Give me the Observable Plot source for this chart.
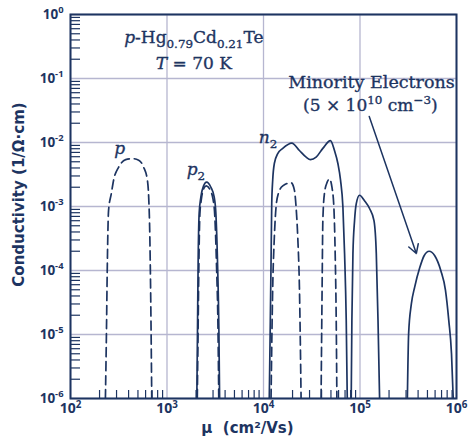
<!DOCTYPE html>
<html><head><meta charset="utf-8">
<script src="https://cdn.jsdelivr.net/npm/d3@7"></script>
<script src="https://cdn.jsdelivr.net/npm/@observablehq/plot@0.6"></script>
<style>
body{margin:0;background:#fff}
#chart{width:468px;height:438px}
</style></head><body><div id="chart"></div>
<script>
// ---- data ----
const pDashMu    = [230, 236, 240, 248, 265, 280, 315, 373, 437, 509, 573, 626, 646, 662, 678, 695];
const pDashSigma = [1e-6, 1.2e-5, 9e-5, 8.7e-4, 1.6e-3, 2.6e-3, 4.1e-3, 5.4e-3, 5.6e-3, 5.3e-3, 4.1e-3, 2.6e-3, 1.4e-3, 4.2e-4, 3.8e-5, 1e-6];

const p2SolidMu    = [2037, 2070, 2102, 2154, 2243, 2393, 2572, 2850, 3084, 3209, 3340, 3450, 3508];
const p2SolidSigma = [1e-6, 1.15e-5, 1.3e-4, 7.8e-4, 1.4e-3, 2.1e-3, 2.4e-3, 2.0e-3, 1.4e-3, 7.8e-4, 1.3e-4, 1.15e-5, 1e-6];

const p2DashMu    = [2060, 2100, 2140, 2190, 2270, 2400, 2560, 2800, 3000, 3130, 3260, 3380, 3440];
const p2DashSigma = [1e-6, 1.2e-5, 1.3e-4, 7.5e-4, 1.3e-3, 1.9e-3, 2.1e-3, 1.8e-3, 1.3e-3, 7e-4, 1.2e-4, 1.1e-5, 1e-6];

const n2SolidMu    = [11480, 11770, 11970, 12170, 12460, 12950, 14050, 15840, 19650, 23560, 27660, 30640, 35100, 41200, 49400, 54400, 59000, 62800, 66500, 69200, 72000, 73800];
const n2SolidSigma = [1e-6, 1.65e-5, 1.3e-4, 1.1e-3, 2.6e-3, 4.7e-3, 6.7e-3, 8.1e-3, 9.8e-3, 7.5e-3, 5.9e-3, 5.4e-3, 5.9e-3, 8.1e-3, 1.07e-2, 7.5e-3, 4.7e-3, 2.6e-3, 9.8e-4, 1.85e-4, 1.65e-5, 1e-6];

const n2DashAMu    = [11970, 12460, 12950, 13490, 14260, 15840, 19320, 20900, 21760, 22650, 23560, 24520];
const n2DashASigma = [1e-6, 5.5e-5, 3.3e-4, 9.8e-4, 1.6e-3, 2.1e-3, 2.35e-3, 1.8e-3, 9.8e-4, 3.3e-4, 5.5e-5, 1e-6];

const n2DashBMu    = [39500, 40500, 41200, 42800, 45700, 48300, 51200, 53600, 55300, 56700, 57600];
const n2DashBSigma = [1e-6, 5.5e-5, 6.0e-4, 1.6e-3, 2.4e-3, 2.7e-3, 2.0e-3, 9.8e-4, 1.85e-4, 1.65e-5, 1e-6];

const n1SolidMu    = [81100, 82400, 84500, 87800, 91400, 98900, 111400, 125600, 139600, 147500, 153700, 159600];
const n1SolidSigma = [1e-6, 1.65e-5, 1.85e-4, 6e-4, 1.1e-3, 1.5e-3, 1.23e-3, 9.3e-4, 6e-4, 1.85e-4, 1.65e-5, 1e-6];

const minorityMu    = [309700, 319300, 340500, 368600, 415600, 461700, 520000, 595400, 687300, 769000, 832000, 887700, 924600];
const minoritySigma = [1e-6, 1.05e-5, 3.0e-5, 5.5e-5, 1.1e-4, 1.7e-4, 2.0e-4, 1.7e-4, 1.0e-4, 4.9e-5, 1.65e-5, 5e-6, 1e-6];

// tick values
const xDecades = [1e2, 1e3, 1e4, 1e5, 1e6];
const yDecades = [1e-6, 1e-5, 1e-4, 1e-3, 1e-2, 1e-1, 1];
const minorMultipliers = [2, 3, 4, 5, 6, 7, 8, 9];

// annotations
const labelTexts = ["*p*-Hg_{0.79}Cd_{0.21}Te", "*T* = 70 K", "(5 × 10^{10} cm^{−3})", "*p*", "*p*_{2}", "*n*_{2}"];
const labelMu    = [1897, 1897, 128000, 323, 1991, 11140];
const labelSigma = [0.437, 0.171, 0.038, 8.05e-3, 3.8e-3, 0.012];
const minorityTitle = "Minority Electrons";
const minorityTitleMu = 131500;
const minorityTitleSigma = 0.0866;
const arrowFrom = {mu: 124700, sigma: 0.0255};
const arrowTo   = {mu: 383500, sigma: 1.84e-4};
const xLabel = "μ  (cm²/Vs)";
const yLabel = "Conductivity (1/Ω·cm)";

// ---- build tables ----
function rows(name, mu, sigma) { return mu.map((m, i) => ({curve: name, mu: m, sigma: sigma[i]})); }
const dashed = [
  ...rows("p", pDashMu, pDashSigma),
  ...rows("p2d", p2DashMu, p2DashSigma),
  ...rows("n2a", n2DashAMu, n2DashASigma),
  ...rows("n2b", n2DashBMu, n2DashBSigma)
];
const solid = [
  ...rows("p2", p2SolidMu, p2SolidSigma),
  ...rows("n2", n2SolidMu, n2SolidSigma),
  ...rows("n1", n1SolidMu, n1SolidSigma),
  ...rows("min", minorityMu, minoritySigma)
];
const labels = labelTexts.map((t, i) => ({t, mu: labelMu[i], sigma: labelSigma[i]}));
const minorX = xDecades.slice(0, -1).flatMap(d => minorMultipliers.map(m => d * m));
const minorY = yDecades.slice(0, -1).flatMap(d => minorMultipliers.map(m => d * m));

const navy = "#1d3461";
const gridColor = "#b6b6d0";
const expFmt = d => "10^{" + Math.round(Math.log10(d)) + "}";
const labelFont = "'DejaVu Sans', sans-serif";
const serif = "'DejaVu Serif', serif";

const chart = Plot.plot({
  width: 468, height: 438,
  marginLeft: 70, marginRight: 12, marginTop: 14, marginBottom: 40,
  style: {background: "#fff", color: navy, fontFamily: "'Open Sans', sans-serif"},
  x: {type: "log", domain: [1e2, 1e6]},
  y: {type: "log", domain: [1e-6, 1]},
  marks: [
    Plot.gridX(xDecades, {stroke: gridColor, strokeOpacity: 1, strokeWidth: 1.3}),
    Plot.gridY(yDecades, {stroke: gridColor, strokeOpacity: 1, strokeWidth: 1.3}),
    Plot.axisX(minorX, {tickSize: -8, tickFormat: () => "", stroke: navy, strokeWidth: 1.2, label: null}),
    Plot.axisY(minorY, {tickSize: -10, tickFormat: () => "", stroke: navy, strokeWidth: 1.2, label: null}),
    Plot.axisX(xDecades, {tickSize: 0, tickPadding: 5, tickFormat: expFmt, fontSize: 14, fontWeight: "bold", fill: navy, label: null}),
    Plot.axisY(yDecades, {tickSize: 0, tickPadding: 7, tickFormat: expFmt, fontSize: 13.5, fontWeight: "bold", fill: navy, label: null}),
    Plot.line(dashed, {x: "mu", y: "sigma", z: "curve", stroke: navy, strokeWidth: 1.7, strokeDasharray: "9,5", curve: "monotone-x", clip: true}),
    Plot.line(solid, {x: "mu", y: "sigma", z: "curve", stroke: navy, strokeWidth: 1.7, curve: "monotone-x", clip: true}),
    Plot.frame({stroke: navy, strokeWidth: 2}),
    Plot.text(labels, {x: "mu", y: "sigma", text: "t", fontFamily: serif, fontSize: 17, fill: navy, stroke: navy, strokeWidth: 0.35}),
    Plot.text([minorityTitle], {x: () => minorityTitleMu, y: () => minorityTitleSigma, fontFamily: serif, fontSize: 17.5, fill: navy, stroke: navy, strokeWidth: 0.35}),
    Plot.arrow([0], {x1: () => arrowFrom.mu, y1: () => arrowFrom.sigma, x2: () => arrowTo.mu, y2: () => arrowTo.sigma, stroke: navy, strokeWidth: 1.5, headLength: 10}),
    Plot.text([xLabel], {frameAnchor: "bottom", textAnchor: "middle", lineAnchor: "middle", dx: -16, dy: 30, fontFamily: labelFont, fontSize: 15, fontWeight: "bold", fill: navy}),
    Plot.text([yLabel], {frameAnchor: "left", textAnchor: "middle", lineAnchor: "middle", rotate: -90, dx: -51, dy: -12, fontFamily: labelFont, fontSize: 15, fontWeight: "bold", fill: navy})
  ]
});
document.getElementById("chart").appendChild(chart);

// ---- rich text: sub/superscripts and italics ----
const NS = "http://www.w3.org/2000/svg";
chart.querySelectorAll("text").forEach(el => {
  const s = el.textContent;
  if (!/[_^*]/.test(s)) return;
  const base = parseFloat(getComputedStyle(el).fontSize) || 14;
  const parts = s.split(/(_\{[^}]*\}|\^\{[^}]*\}|\*[^*]+\*)/).filter(p => p);
  el.textContent = "";
  let shift = 0;
  for (const p of parts) {
    const t = document.createElementNS(NS, "tspan");
    let txt = p, target = 0, small = false, italic = false;
    if (p.startsWith("_{")) { txt = p.slice(2, -1); target = 0.28 * base; small = true; }
    else if (p.startsWith("^{")) { txt = p.slice(2, -1); target = -0.42 * base; small = true; }
    else if (p.startsWith("*")) { txt = p.slice(1, -1); italic = true; }
    if (target !== shift) t.setAttribute("dy", (target - shift).toFixed(2));
    shift = target;
    if (small) t.setAttribute("font-size", (base * 0.7).toFixed(1));
    if (italic) t.setAttribute("font-style", "italic");
    t.textContent = txt;
    el.appendChild(t);
  }
});
</script></body></html>
